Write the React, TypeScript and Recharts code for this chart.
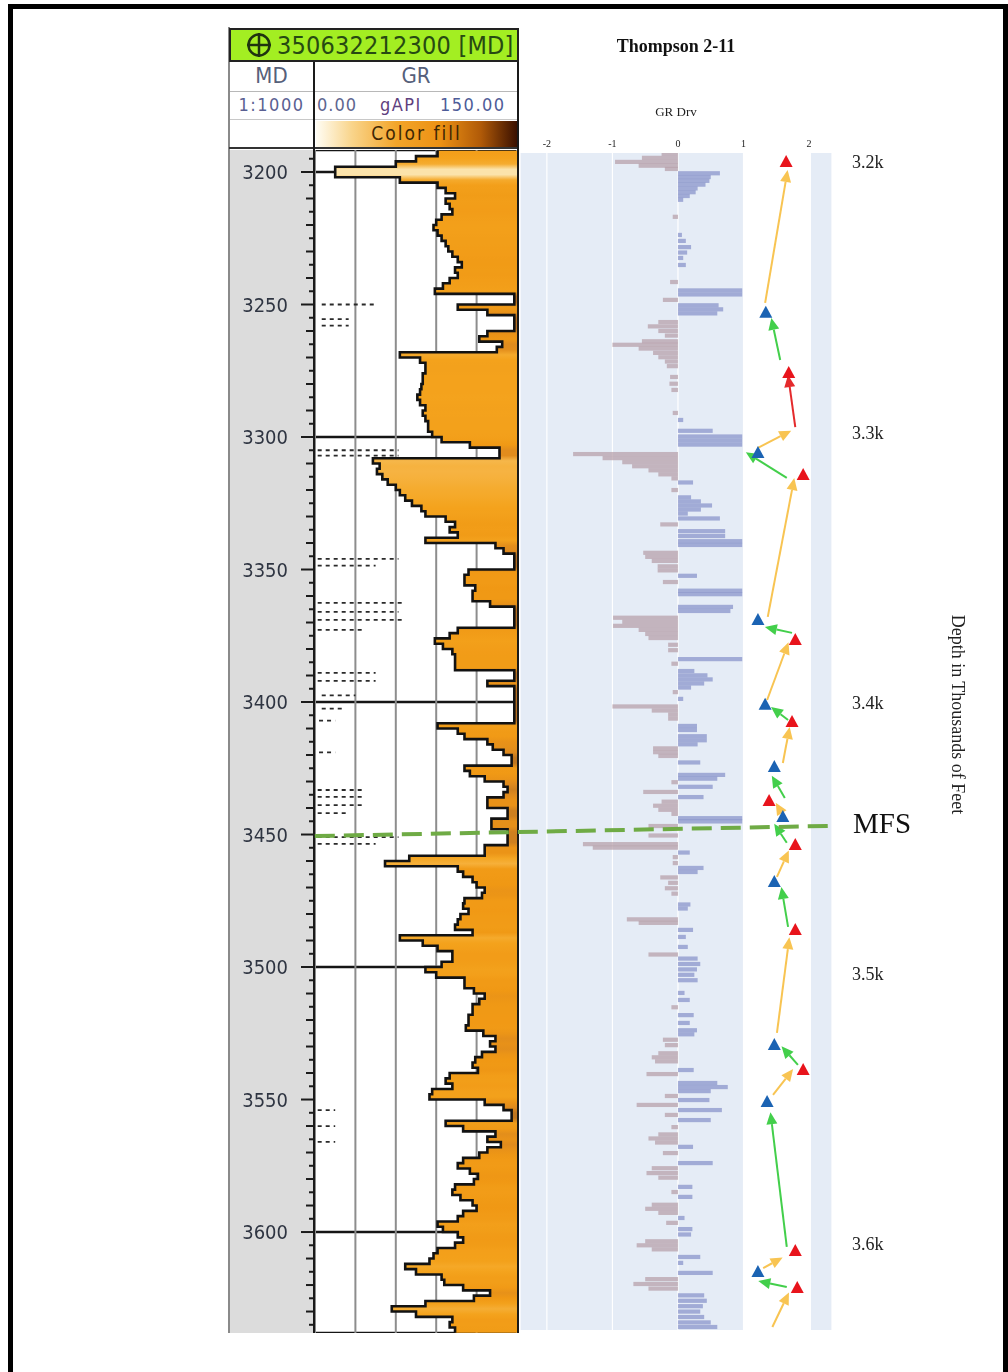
import React from 'react';
import {
  ComposedChart, Area, Line, Bar, Scatter,
  XAxis, YAxis, CartesianGrid, ReferenceLine, ReferenceArea,
} from 'recharts';

// Gamma ray log (gAPI), one reading every 2 ft from 3192 ft MD
const GR_TOP_FT = 3192;
const GR_STEP_FT = 2;
const grValues = [
  91, 75, 60, 15, 15, 63, 91, 97, 104, 97,
  100, 102, 94, 90, 88, 91, 94, 97, 99, 102,
  106, 109, 104, 106, 100, 95, 89, 148, 148, 106,
  128, 148, 148, 148, 128, 122, 139, 135, 63, 78,
  82, 82, 80, 80, 79, 78, 76, 78, 82, 80,
  82, 84, 84, 87, 94, 115, 137, 137, 43, 48,
  46, 50, 54, 60, 63, 67, 72, 79, 82, 97,
  104, 100, 106, 82, 134, 140, 148, 148, 148, 114,
  111, 111, 119, 117, 117, 130, 148, 148, 148, 148,
  106, 100, 89, 95, 102, 104, 104, 104, 148, 148,
  128, 148, 148, 148, 148, 148, 148, 148, 91, 106,
  111, 128, 132, 140, 146, 146, 111, 115, 126, 140,
  143, 140, 128, 128, 143, 143, 131, 131, 143, 143,
  143, 126, 126, 70, 52, 106, 110, 117, 120, 126,
  124, 111, 110, 114, 108, 106, 104, 117, 63, 80,
  91, 102, 102, 94, 82, 90, 111, 111, 118, 126,
  122, 117, 117, 114, 114, 112, 125, 134, 130, 134,
  124, 119, 117, 121, 100, 97, 102, 87, 85, 126,
  140, 146, 146, 97, 110, 134, 128, 138, 128, 122,
  110, 106, 115, 121, 118, 104, 102, 108, 117, 120,
  110, 106, 91, 95, 106, 110, 104, 91, 88, 85,
  67, 75, 94, 96, 110, 130, 118, 82, 57, 75,
  102, 100, 104, 104,
];

const mdGridDepths = [3200, 3300, 3400, 3500, 3600];
const grScaleTicks = [0, 30, 60, 90, 120, 150];

// lithology pattern rows in the GR track: [depth ft, gAPI from, gAPI to]
const lithoRows: number[][] = [
  [3250, 5, 45], [3255.5, 5, 25], [3258, 5, 25],
  [3305, 2, 62], [3307, 2, 62], [3346, 2, 62], [3348.5, 2, 45],
  [3362.6, 2, 65], [3366, 2, 62], [3369, 2, 65], [3372.8, 2, 35],
  [3389, 2, 45], [3392, 2, 45], [3397.5, 5, 30], [3402.5, 5, 20], [3407, 3, 15],
  [3419, 3, 15], [3433.2, 2, 35], [3435.8, 2, 35], [3438.9, 2, 35], [3441.9, 2, 25],
  [3451, 2, 62], [3453.5, 2, 45], [3554, 2, 15], [3560, 2, 15], [3566, 2, 15],
];

// GR derivative: [depth ft, value]
const grDrv: [number, number][] = [
  [3197.0, -0.25], [3198.5, -0.55], [3200.0, -0.96], [3201.4, -0.6], [3202.6, -0.2],
  [3204.2, 0.64], [3205.6, 0.5], [3207.0, 0.48], [3208.4, 0.42], [3209.8, 0.3],
  [3211.2, 0.27], [3212.6, 0.18], [3214.0, 0.08], [3220.3, -0.08],
  [3227.0, 0.06], [3229.2, 0.12], [3231.5, 0.2], [3233.5, 0.14], [3235.5, 0.08],
  [3238.1, 0.12], [3244.4, -0.12], [3247.5, 0.98], [3249.0, 0.98], [3251.0, -0.23],
  [3253.0, 0.62], [3254.5, 0.69], [3256.0, 0.6],
  [3259.2, -0.3], [3260.8, -0.46], [3262.5, -0.3], [3264.2, -0.2],
  [3266.3, -0.55], [3267.6, -1.0], [3269.0, -0.6], [3270.6, -0.38], [3272.2, -0.3],
  [3273.8, -0.2], [3275.5, -0.17], [3279.5, -0.12], [3282.0, -0.13], [3284.3, -0.1],
  [3292.8, -0.08], [3295.4, 0.08], [3299.4, 0.53], [3301.5, 0.98], [3303.0, 0.98], [3304.5, 0.98],
  [3308.0, -1.6], [3309.5, -1.15], [3311.0, -0.85], [3312.5, -0.7], [3314.0, -0.45],
  [3315.5, -0.3], [3317.0, -0.1], [3318.5, 0.23], [3321.3, -0.1],
  [3324.0, 0.2], [3325.5, 0.35], [3327.0, 0.52], [3328.5, 0.35], [3330.0, 0.15],
  [3331.8, 0.64], [3334.0, -0.27], [3336.5, 0.72], [3338.3, 0.72], [3340.2, 0.98], [3341.6, 0.98],
  [3344.5, -0.53], [3346.0, -0.5], [3347.5, -0.4], [3349.5, -0.31], [3351.0, -0.31],
  [3353.0, 0.29], [3355.3, -0.23], [3358.5, 0.98], [3359.8, 0.98], [3364.5, 0.84], [3366.0, 0.8],
  [3368.5, -0.99], [3370.0, -0.85], [3371.5, -0.99], [3373.0, -0.6], [3374.5, -0.5], [3376.0, -0.45],
  [3378.5, -0.15], [3380.5, -0.15], [3383.8, 0.98], [3385.5, -0.1],
  [3388.2, 0.25], [3389.8, 0.45], [3391.3, 0.53], [3392.8, 0.4], [3394.3, 0.2],
  [3396.0, -0.08], [3398.5, 0.08], [3401.3, -1.0], [3402.8, -0.4], [3404.3, -0.15], [3405.8, -0.15],
  [3408.5, 0.29], [3410.0, 0.29], [3412.3, 0.44], [3413.8, 0.44], [3415.3, 0.3],
  [3416.8, -0.38], [3418.2, -0.38], [3419.6, -0.3], [3422.0, 0.34],
  [3426.6, 0.72], [3428.0, 0.6], [3429.3, -0.1], [3431.0, 0.53], [3432.9, -0.53], [3434.8, 0.39],
  [3436.5, -0.25], [3438.0, -0.38], [3439.5, -0.3], [3441.0, -0.1], [3442.6, 0.98], [3443.8, 0.98],
  [3445.5, -0.45], [3449.0, -0.45], [3452.2, -1.45], [3453.5, -1.3], [3455.3, 0.18],
  [3457.0, -0.08], [3459.2, -0.08], [3461.0, 0.39], [3462.5, 0.3],
  [3464.5, -0.27], [3466.5, -0.15], [3468.5, -0.2], [3470.5, -0.1], [3474.5, 0.19], [3476.0, 0.15],
  [3480.0, -0.78], [3481.3, -0.6], [3483.9, 0.23], [3486.5, 0.12], [3490.2, 0.15], [3493.0, -0.45],
  [3494.5, 0.3], [3496.5, 0.34], [3498.5, 0.29], [3500.5, 0.25], [3502.5, 0.3],
  [3507.2, 0.1], [3509.8, 0.18], [3512.5, -0.1], [3515.4, 0.24], [3518.3, 0.18],
  [3521.0, 0.29], [3522.5, 0.25], [3524.5, -0.23], [3526.5, -0.2],
  [3529.5, -0.3], [3531.0, -0.4], [3532.5, -0.35], [3535.7, 0.24], [3537.2, -0.48],
  [3540.5, 0.6], [3542.0, 0.76], [3543.5, 0.5], [3545.3, -0.2], [3546.8, 0.48], [3548.6, -0.63],
  [3550.5, 0.67], [3552.3, -0.2], [3554.2, 0.5], [3556.8, -0.1],
  [3559.5, -0.3], [3561.0, -0.45], [3562.5, -0.35], [3564.1, 0.23], [3566.4, -0.23], [3570.1, 0.53],
  [3572.0, -0.4], [3573.8, -0.48], [3575.5, -0.3], [3578.9, 0.22], [3580.8, -0.1], [3582.6, 0.22],
  [3585.5, -0.4], [3587.0, -0.5], [3588.5, -0.3], [3590.4, 0.1], [3592.2, -0.18],
  [3594.5, 0.22], [3596.5, 0.2], [3599.0, -0.5], [3600.5, -0.63], [3602.0, -0.4],
  [3604.8, 0.34], [3607.0, 0.08], [3610.7, 0.53], [3613.0, -0.5], [3614.8, -0.68], [3616.5, -0.45],
  [3619.0, 0.4], [3621.0, 0.44], [3623.0, 0.38], [3625.0, 0.34], [3627.0, 0.4], [3629.0, 0.5], [3630.7, 0.6],
];

const drvTicks = [-2, -1, 0, 1, 2];
const depthTicks = [3200, 3300, 3400, 3500, 3600];

// trend turning points: [depth ft, drv position]
const peaks: [number, number][] = [
  [3200.0, 1.65], [3278.0, 1.69], [3315.7, 1.91], [3376.7, 1.79], [3407.0, 1.74], [3436.2, 1.39],
  [3452.5, 1.79], [3483.9, 1.79], [3535.7, 1.91], [3602.6, 1.79], [3616.3, 1.82],
];
const troughs: [number, number][] = [
  [3255.8, 1.34], [3307.6, 1.22], [3369.3, 1.22], [3400.7, 1.33], [3423.7, 1.47],
  [3442.2, 1.6], [3466.2, 1.47], [3526.4, 1.47], [3547.5, 1.36], [3610.4, 1.22],
];

// trend arrows: [drv from, depth from, drv to, depth to]
const towardPeak: number[][] = [
  [1.44, 3630.7, 1.66, 3619.6], [1.3, 3608.9, 1.53, 3605.9], [1.45, 3544.9, 1.71, 3536.8],
  [1.51, 3522.0, 1.69, 3488.4], [1.51, 3464.3, 1.66, 3456.2], [1.6, 3441.4, 1.53, 3438.5],
  [1.6, 3422.2, 1.69, 3410.7], [1.36, 3398.9, 1.66, 3379.3], [1.37, 3368.2, 1.76, 3318.7],
  [1.22, 3305.7, 1.66, 3300.2], [1.33, 3252.1, 1.66, 3204.8],
];
const towardTrough: number[][] = [
  [1.66, 3615.9, 1.3, 3614.1], [1.66, 3601.1, 1.42, 3553.1], [1.83, 3533.8, 1.63, 3528.3],
  [1.68, 3482.8, 1.59, 3469.9], [1.66, 3451.7, 1.51, 3446.2], [1.63, 3435.1, 1.47, 3428.5],
  [1.68, 3406.3, 1.48, 3402.6], [1.74, 3374.1, 1.4, 3372.3], [1.66, 3316.8, 1.1, 3308.3],
  [1.56, 3273.2, 1.44, 3259.5],
];
const peakToPeak: number[][] = [[1.79, 3298.0, 1.69, 3280.6]];

// maximum flooding surface pick, drawn across both tracks
const mfsPick = [{ x: -5.54, y: 3449.2 }, { x: 2.4, y: 3445.4 }];

const grData = grValues.map((gr, i) => ({ depth: GR_TOP_FT + i * GR_STEP_FT, gr }));
const mdTicks: number[] = [];
for (let d = 3195; d <= 3635; d += 5) mdTicks.push(d);
const drvData = grDrv.map(([depth, drv]) => ({ depth, drv }));
const peakData = peaks.map(([depth, drv]) => ({ depth, drv }));
const troughData = troughs.map(([depth, drv]) => ({ depth, drv }));

// colour fill ramp for the GR track
const ramp: [number, number[]][] = [
  [0, [255, 251, 233]], [20, [250, 219, 150]], [45, [246, 180, 67]], [75, [244, 163, 29]],
  [120, [240, 152, 20]], [140, [222, 138, 30]], [150, [170, 104, 34]],
];
function rampColor(v: number) {
  for (let i = 1; i < ramp.length; i++) {
    if (v <= ramp[i][0]) {
      const [a, ca] = ramp[i - 1];
      const [b, cb] = ramp[i];
      const t = (v - a) / (b - a);
      return `rgb(${ca.map((c, k) => Math.round(c + (cb[k] - c) * t)).join(',')})`;
    }
  }
  return 'rgb(170,104,34)';
}

const SERIF = '"Liberation Serif", "Times New Roman", serif';
const COND = '"DejaVu Sans Condensed", "DejaVu Sans", sans-serif';
const MD_AXIS_W = 85;

function MdTick(props: any) {
  const { y, payload } = props;
  const d = payload.value as number;
  const x = MD_AXIS_W;
  const len = d % 50 === 0 ? 14 : d % 10 === 0 ? 9 : 6;
  return (
    <g>
      <line x1={x - len} y1={y} x2={x} y2={y} stroke="#1b1b1b" strokeWidth={2} />
      {d % 50 === 0 && (
        <text x={x - 27} y={y} dy="0.36em" textAnchor="end" fontSize={20} fontFamily={COND} fill="#2f3542">
          {d}
        </text>
      )}
    </g>
  );
}

function Triangle({ cx, cy, fill }: any) {
  return <polygon points={`${cx},${cy - 7} ${cx + 6.5},${cy + 5} ${cx - 6.5},${cy + 5}`} fill={fill} />;
}

function DrvBar(p: any) {
  const x0 = Math.min(p.x, p.x + p.width);
  const w = Math.abs(p.width);
  const neg = p.payload.drv < 0;
  return <rect x={x0} y={p.y + p.height / 2 - 2.1} width={w} height={4.2} fill={neg ? '#b59ea8' : '#8692c9'} fillOpacity={0.72} />;
}

function arrowShape(color: string) {
  return (p: any) => {
    const { x1, y1, x2, y2 } = p;
    const dx = x2 - x1;
    const dy = y2 - y1;
    const len = Math.hypot(dx, dy) || 1;
    const ux = dx / len;
    const uy = dy / len;
    const tx = x2 + ux * 5;
    const ty = y2 + uy * 5;
    const bx = tx - ux * 12;
    const by = ty - uy * 12;
    const head = `${tx},${ty} ${bx - uy * 5.5},${by + ux * 5.5} ${bx + uy * 5.5},${by - ux * 5.5}`;
    return (
      <g>
        <line x1={x1} y1={y1} x2={bx} y2={by} stroke={color} strokeWidth={2} />
        <polygon points={head} fill={color} />
      </g>
    );
  };
}

function GrHeader() {
  const txt = { position: 'absolute' as const, fontFamily: COND, color: '#56607a' };
  return (
    <>
      <div style={{ position: 'absolute', left: 228, top: 27, width: 291, height: 122, background: '#fff', borderLeft: '2px solid #8a8a8a' }} />
      <div style={{
        position: 'absolute', left: 229, top: 28, width: 290, height: 34, boxSizing: 'border-box',
        background: '#a3ee22', border: '2px solid #222',
      }}>
        <svg width={26} height={26} style={{ position: 'absolute', left: 15, top: 2 }}>
          <circle cx={13} cy={13} r={10.5} fill="none" stroke="#1f3410" strokeWidth={2.5} />
          <line x1={13} y1={1} x2={13} y2={25} stroke="#1f3410" strokeWidth={2.5} />
          <line x1={1} y1={13} x2={25} y2={13} stroke="#1f3410" strokeWidth={2.5} />
        </svg>
        <span style={{ position: 'absolute', left: 46, top: 1, fontFamily: COND, fontSize: 25, color: '#274a12', letterSpacing: 0.2 }}>
          350632212300 [MD]
        </span>
      </div>
      <div style={{ position: 'absolute', left: 230, top: 91, width: 287, height: 1, background: '#b8b8b8' }} />
      <div style={{ position: 'absolute', left: 230, top: 119, width: 287, height: 1, background: '#c8c8c8' }} />
      <div style={{ ...txt, left: 230, top: 63, width: 83, textAlign: 'center', fontSize: 22 }}>MD</div>
      <div style={{ ...txt, left: 315, top: 63, width: 202, textAlign: 'center', fontSize: 22 }}>GR</div>
      <div style={{ ...txt, left: 230, top: 94, width: 83, textAlign: 'center', fontSize: 18, letterSpacing: 1.5, color: '#5a5f92' }}>1:1000</div>
      <div style={{ ...txt, left: 317, top: 94, fontSize: 18, letterSpacing: 1, color: '#5e6690' }}>0.00</div>
      <div style={{ ...txt, left: 380, top: 94, fontSize: 18, letterSpacing: 1.5, color: '#60407e' }}>gAPI</div>
      <div style={{ ...txt, left: 440, top: 94, fontSize: 18, letterSpacing: 1.5, color: '#4e5c98' }}>150.00</div>
      <div style={{
        position: 'absolute', left: 316, top: 121, width: 201, height: 26,
        background: 'linear-gradient(to right, #fffdf4 0%, #f9d48a 18%, #f3a52a 40%, #ec9114 62%, #b05a08 82%, #3a1000 100%)',
      }} />
      <div style={{ ...txt, left: 316, top: 122, width: 201, textAlign: 'center', fontSize: 19, letterSpacing: 2, color: '#3f2604' }}>Color fill</div>
      <div style={{ position: 'absolute', left: 229, top: 147, width: 290, height: 2, background: '#333' }} />
    </>
  );
}

function GrTrack() {
  const first = grData[0].depth;
  const span = grData[grData.length - 1].depth - first;
  return (
    <>
      <div style={{ position: 'absolute', left: 230, top: 150, width: 83, height: 1183, background: '#dcdcdc' }} />
      <div style={{ position: 'absolute', left: 230, top: 150 }}>
        <ComposedChart
          layout="vertical"
          width={289}
          height={1183}
          data={grData}
          margin={{ top: 0, right: 2, bottom: 0, left: 0 }}
        >
          <defs>
            <linearGradient id="grFill" x1="0" y1="0" x2="0" y2="1">
              {grData.map((p, i) => (
                <stop key={i} offset={Math.min(1, (p.depth + GR_STEP_FT / 2 - first) / span)} stopColor={rampColor(p.gr)} />
              ))}
            </linearGradient>
          </defs>
          <XAxis type="number" domain={[0, 150]} ticks={grScaleTicks} hide allowDataOverflow />
          <YAxis type="number" dataKey="depth" domain={[3191.7, 3638.1]} hide ticks={mdGridDepths} allowDataOverflow />
          <YAxis
            yAxisId="md"
            type="number"
            dataKey="depth"
            orientation="left"
            width={MD_AXIS_W}
            domain={[3191.7, 3638.1]}
            allowDataOverflow
            ticks={mdTicks}
            interval={0}
            tick={<MdTick />}
            tickLine={false}
            axisLine={false}
            tickSize={0}
            tickMargin={0}
          />
          <CartesianGrid
            horizontal={(p: any) => <line key={p.key} x1={p.x1} y1={p.y1} x2={p.x2} y2={p.y2} stroke="#151515" strokeWidth={2.5} />}
            vertical={(p: any) => <line key={p.key} x1={p.x1} y1={p.y1} x2={p.x2} y2={p.y2} stroke="#8d8d8d" strokeWidth={2} />}
          />
          {lithoRows.map((r, i) => (
            <ReferenceLine
              key={i}
              segment={[{ x: r[1], y: r[0] }, { x: r[2], y: r[0] }]}
              stroke="#2a2a2a"
              strokeWidth={1.8}
              strokeDasharray="4 4"
            />
          ))}
          <Area
            dataKey="gr"
            type="stepBefore"
            baseValue={150}
            fill="url(#grFill)"
            fillOpacity={1}
            stroke="none"
            isAnimationActive={false}
          />
          <Line dataKey="gr" type="stepBefore" stroke="#121212" strokeWidth={2.6} dot={false} isAnimationActive={false} />
        </ComposedChart>
      </div>
      <div style={{ position: 'absolute', left: 313, top: 62, width: 2, height: 1271, background: '#1a1a1a' }} />
      <div style={{ position: 'absolute', left: 517, top: 62, width: 2, height: 1271, background: '#1a1a1a' }} />
      <div style={{ position: 'absolute', left: 228, top: 149, width: 2, height: 1184, background: '#8a8a8a' }} />
    </>
  );
}

function DrvChart() {
  return (
    <div style={{ position: 'absolute', left: 300, top: 0 }}>
      <ComposedChart
        layout="vertical"
        width={708}
        height={1345}
        data={drvData}
        margin={{ top: 93, right: 0, bottom: 15, left: 220 }}
      >
        <XAxis
          type="number"
          orientation="top"
          height={60}
          domain={[-2.41, 2.35]}
          ticks={drvTicks}
          allowDataOverflow
          tickLine={false}
          axisLine={false}
          tickSize={0}
          tickMargin={6}
          tick={{ fontSize: 10, fontFamily: SERIF, fill: '#222' }}
          label={{ value: 'GR Drv', position: 'insideTop', offset: 14, style: { fontSize: 13, fontFamily: SERIF, fill: '#222' } }}
        />
        <YAxis
          type="number"
          dataKey="depth"
          orientation="right"
          width={176}
          domain={[3196.7, 3631.8]}
          allowDataOverflow
          ticks={depthTicks}
          tickFormatter={(v: number) => `${(v / 1000).toFixed(1)}k`}
          tickLine={false}
          axisLine={false}
          tickSize={0}
          tickMargin={20}
          tick={{ fontSize: 18, fontFamily: SERIF, fill: '#222' }}
          label={{
            content: (lp: any) => {
              const vb = lp.viewBox || {};
              const cx = vb.x + 126;
              const cy = vb.y + vb.height / 2 - 27;
              return (
                <text x={cx} y={cy} transform={`rotate(90 ${cx} ${cy})`} textAnchor="middle" dominantBaseline="central"
                  fontSize={18} fontFamily={SERIF} fill="#222">
                  Depth in Thousands of Feet
                </text>
              );
            },
          }}
        />
        <CartesianGrid horizontal={false} fill="#e5ecf6" stroke="#ffffff" strokeWidth={1.2} />
        <ReferenceArea x1={1} x2={2.03} fill="#ffffff" fillOpacity={1} stroke="none" />
        <Bar dataKey="drv" barSize={3} shape={DrvBar} isAnimationActive={false} />
        {towardPeak.map((a, i) => (
          <ReferenceLine key={`p${i}`} segment={[{ x: a[0], y: a[1] }, { x: a[2], y: a[3] }]} shape={arrowShape('#f8c452')} />
        ))}
        {towardTrough.map((a, i) => (
          <ReferenceLine key={`t${i}`} segment={[{ x: a[0], y: a[1] }, { x: a[2], y: a[3] }]} shape={arrowShape('#43cf4b')} />
        ))}
        {peakToPeak.map((a, i) => (
          <ReferenceLine key={`r${i}`} segment={[{ x: a[0], y: a[1] }, { x: a[2], y: a[3] }]} shape={arrowShape('#e42a2c')} />
        ))}
        <Scatter data={peakData} dataKey="drv" shape={(p: any) => <Triangle cx={p.cx} cy={p.cy} fill="#e8141c" />} isAnimationActive={false} />
        <Scatter data={troughData} dataKey="drv" shape={(p: any) => <Triangle cx={p.cx} cy={p.cy} fill="#1b63b3" />} isAnimationActive={false} />
        <ReferenceLine
          segment={mfsPick}
          ifOverflow="visible"
          stroke="#6fab45"
          strokeWidth={4}
          strokeDasharray="20 9"
        />
      </ComposedChart>
    </div>
  );
}

export default function App() {
  return (
    <div style={{ position: 'relative', width: 1008, height: 1372, background: '#fff', overflow: 'hidden', fontFamily: SERIF }}>
      <style>{'body{margin:0}'}</style>
      <div style={{
        position: 'absolute', left: 8, top: 4, width: 1000, height: 1380,
        borderTop: '5px solid #000', borderLeft: '5px solid #000', borderRight: '5px solid #000', boxSizing: 'border-box',
      }} />
      <div style={{ position: 'absolute', inset: 0, filter: 'blur(0.6px)' }}>
        <GrHeader />
        <GrTrack />
      </div>
      <div style={{ position: 'absolute', left: 520, top: 36, width: 312, textAlign: 'center', fontFamily: SERIF, fontWeight: 700, fontSize: 18, color: '#111' }}>
        Thompson 2-11
      </div>
      <DrvChart />
      <div style={{ position: 'absolute', left: 853, top: 807, fontFamily: SERIF, fontSize: 29, color: '#111' }}>MFS</div>
    </div>
  );
}
